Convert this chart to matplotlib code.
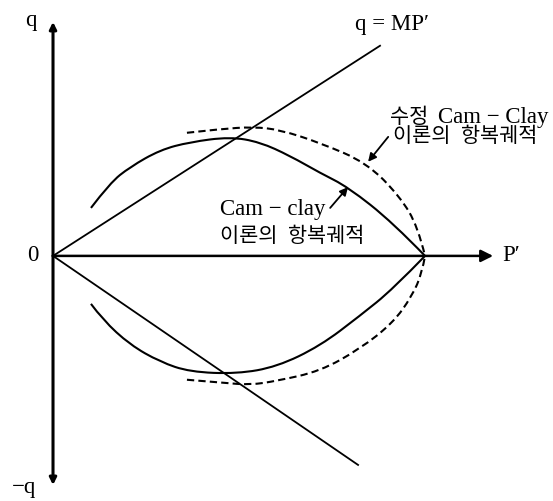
"""Yield loci of the Cam-clay and modified Cam-clay models in p'-q space."""

import matplotlib.pyplot as plt
from matplotlib.patches import PathPatch
from matplotlib.path import Path

# p', q coordinates (p0 = 10) of the yield loci
cam_p_upper = [1.02, 1.53, 2.07, 2.88, 3.68, 4.76, 5.56, 6.37, 7.18, 7.93, 9.14, 10.0]
cam_q_upper = [1.29, 1.96, 2.39, 2.85, 3.06, 3.20, 3.06, 2.69, 2.23, 1.85, 0.89, 0.0]
cam_p_lower = [1.02, 1.34, 2.07, 2.88, 3.68, 4.95, 6.02, 7.18, 8.25, 9.14, 10.0]
cam_q_lower = [-1.29, -1.72, -2.39, -2.85, -3.12, -3.17, -2.98, -2.42, -1.61, -0.89, 0.0]

mcc_p_upper = [3.60, 4.49, 5.38, 6.10, 7.18, 8.44, 9.33, 9.81, 10.0]
mcc_q_upper = [3.31, 3.41, 3.47, 3.39, 3.04, 2.50, 1.59, 0.78, 0.0]
mcc_p_lower = [3.60, 4.57, 5.30, 6.02, 7.18, 8.25, 9.14, 9.65, 9.92, 10.0]
mcc_q_lower = [-3.33, -3.41, -3.47, -3.36, -3.10, -2.50, -1.80, -1.08, -0.46, 0.0]

# critical state lines q = +/- M p'
csl_p = [0.0, 8.79]
csl_q = [0.0, 5.65]
csl_p_neg = [0.0, 8.20]
csl_q_neg = [0.0, -5.62]

FONT = ["Liberation Serif", "Noto Sans CJK KR", "DejaVu Sans"]


def smooth_curve(ax, xs, ys, **kw):
    """Quadratic spline path through the given control points."""
    pts = list(zip(xs, ys))
    verts = [pts[0]]
    codes = [Path.MOVETO]
    for i in range(1, len(pts) - 1):
        if i == len(pts) - 2:
            end = pts[-1]
        else:
            end = ((pts[i][0] + pts[i + 1][0]) / 2, (pts[i][1] + pts[i + 1][1]) / 2)
        verts += [pts[i], end]
        codes += [Path.CURVE3, Path.CURVE3]
    ax.add_patch(PathPatch(Path(verts, codes), facecolor="none",
                           edgecolor="black", **kw))


fig = plt.figure(figsize=(5.53, 5.01), dpi=100)
ax = fig.add_axes([0, 0, 1, 1])
ax.set_xlim(-1.425, 13.44)
ax.set_ylim(-6.59, 6.88)
ax.axis("off")

# axes with arrowheads
arrow_kw = dict(arrowstyle="-|>", color="black", shrinkA=0, shrinkB=0)
ax.annotate("", xy=(0, 6.29), xytext=(0, 0),
            arrowprops=dict(lw=2.2, mutation_scale=10, **arrow_kw))
ax.annotate("", xy=(0, -6.16), xytext=(0, 0),
            arrowprops=dict(lw=2.2, mutation_scale=10, **arrow_kw))
ax.annotate("", xy=(11.83, 0), xytext=(0, 0),
            arrowprops=dict(lw=1.8, mutation_scale=18, **arrow_kw))

ax.plot(csl_p, csl_q, color="black", lw=1.3)
ax.plot(csl_p_neg, csl_q_neg, color="black", lw=1.3)

smooth_curve(ax, cam_p_upper, cam_q_upper, lw=1.5)
smooth_curve(ax, cam_p_lower, cam_q_lower, lw=1.5)
smooth_curve(ax, mcc_p_upper, mcc_q_upper, lw=1.5, linestyle=(0, (3.5, 2)))
smooth_curve(ax, mcc_p_lower, mcc_q_lower, lw=1.5, linestyle=(0, (3.5, 2)))

lat = dict(family=FONT, fontsize=16.5, color="black")
kor = dict(family=FONT, fontsize=15, color="black")
ax.text(-0.59, 6.32, "q", ha="center", va="center", **lat)
ax.text(-0.54, 0.0, "0", ha="center", va="center", **lat)
ax.text(-0.78, -6.22, "−q", ha="center", va="center", **lat)
ax.text(12.31, 0.0, "P′", ha="center", va="center", **lat)
ax.text(9.11, 6.22, "q = MP′", ha="center", va="center", **lat)

ax.text(9.06, 3.71, "수정", ha="left", va="center", **kor)
ax.text(10.35, 3.71, "Cam − Clay", ha="left", va="center", **lat)
ax.text(9.15, 3.20, "이론의  항복궤적", ha="left", va="center", **kor)
ax.text(4.49, 1.24, "Cam − clay", ha="left", va="center", **lat)
ax.text(4.49, 0.51, "이론의  항복궤적", ha="left", va="center", **kor)

label_arrow = dict(arrowstyle="-|>", color="black", lw=1.3, mutation_scale=12,
                   shrinkA=0, shrinkB=0)
ax.annotate("", xy=(8.47, 2.53), xytext=(9.01, 3.20), arrowprops=label_arrow)
ax.annotate("", xy=(7.93, 1.85), xytext=(7.45, 1.29), arrowprops=label_arrow)

fig.savefig("out.png", dpi=100, facecolor="white")
